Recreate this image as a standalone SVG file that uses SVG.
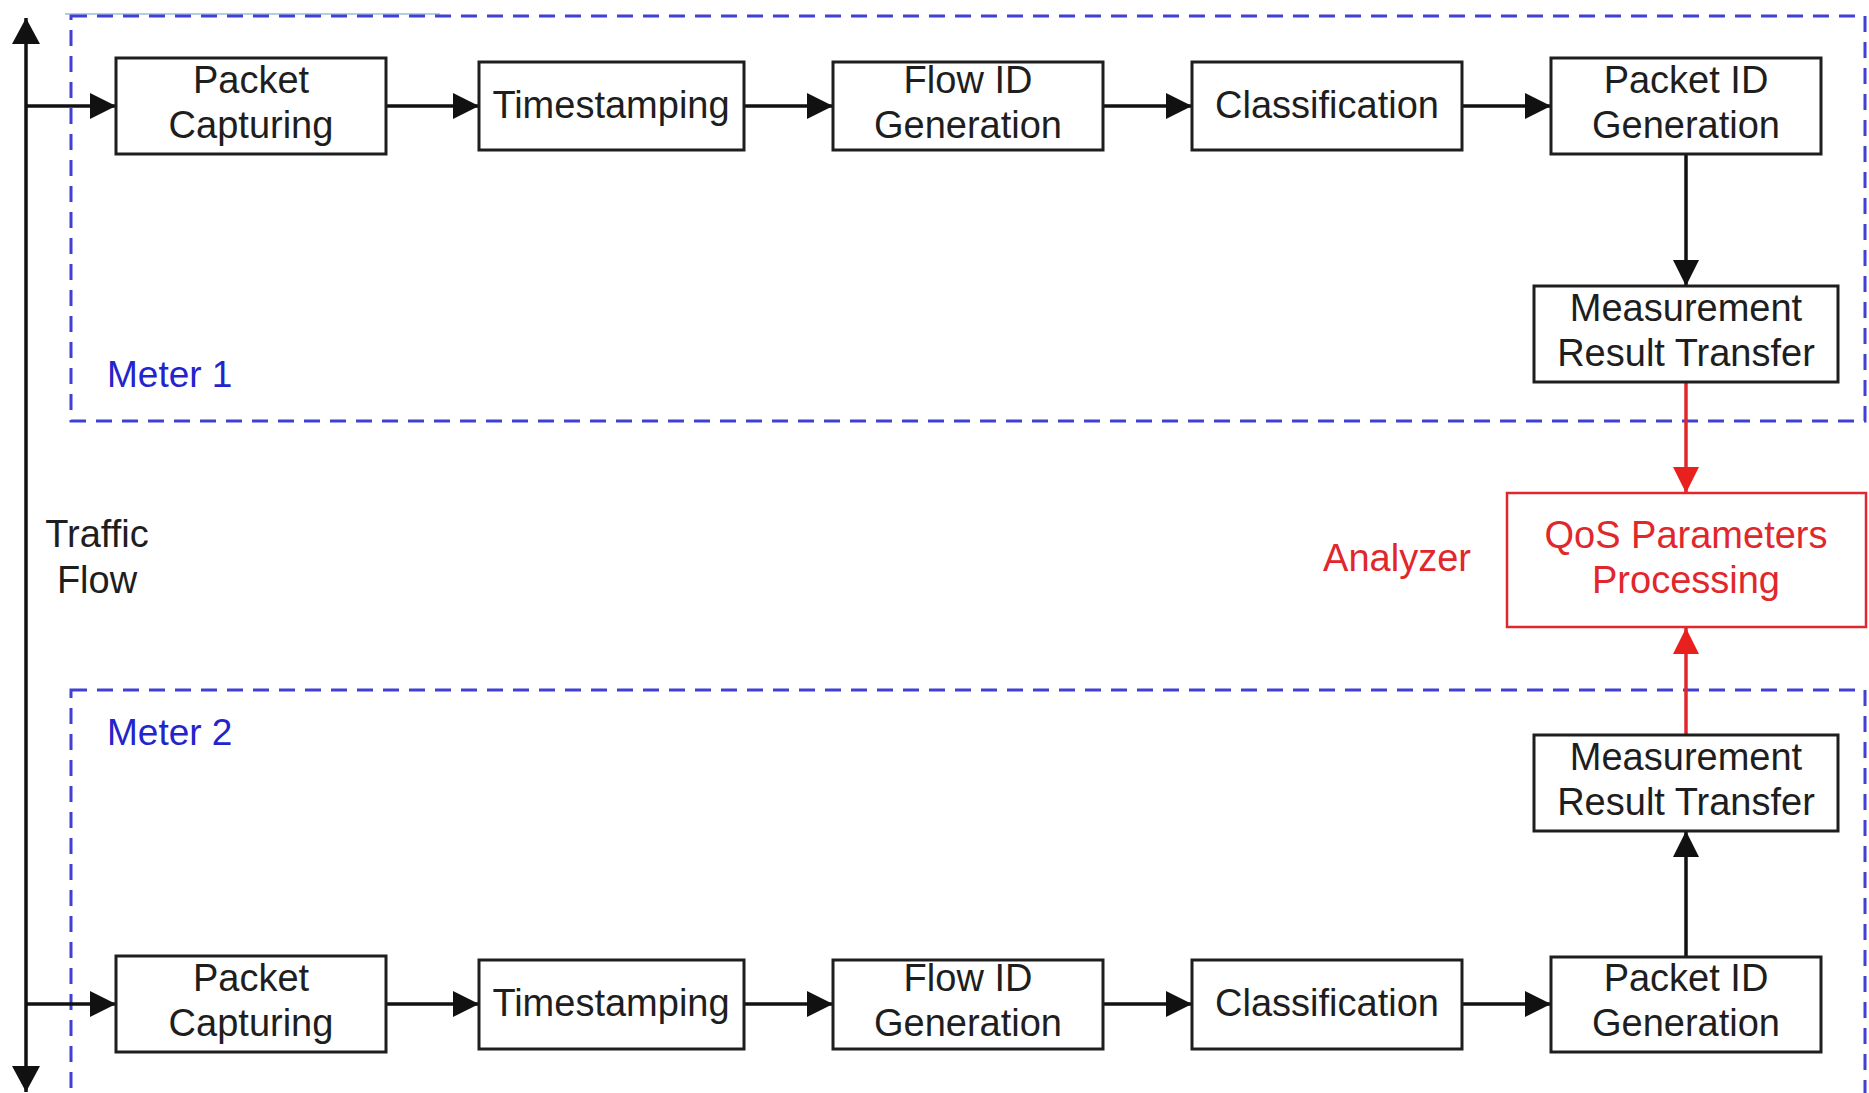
<svg xmlns="http://www.w3.org/2000/svg" width="1869" height="1093" viewBox="0 0 1869 1093">
  <style>
    .box { fill: #ffffff; stroke: #1e1e1e; stroke-width: 3; }
    .rbox { fill: #ffffff; stroke: #e0282c; stroke-width: 2.5; }
    .meter { fill: none; stroke: #4040d4; stroke-width: 3; stroke-dasharray: 16 10; }
    .t { font-family: "Liberation Sans", Arial, sans-serif; font-size: 38px; fill: #1e1e1e; text-anchor: middle; }
    .rt { font-family: "Liberation Sans", Arial, sans-serif; font-size: 38px; fill: #e0282c; text-anchor: middle; }
    .bt { font-family: "Liberation Sans", Arial, sans-serif; font-size: 37px; fill: #2424cc; }
    .ln { fill: none; stroke: #111111; stroke-width: 3.5; }
    .rln { fill: none; stroke: #e0282c; stroke-width: 3.5; }
  </style>
  <defs>
    <marker id="ah" viewBox="0 0 26 26" refX="26" refY="13" markerWidth="26" markerHeight="26" markerUnits="userSpaceOnUse" orient="auto">
      <path d="M0,0 L26,13 L0,26 Z" fill="#111111"/>
    </marker>
    <marker id="ahr" viewBox="0 0 26 26" refX="26" refY="13" markerWidth="26" markerHeight="26" markerUnits="userSpaceOnUse" orient="auto">
      <path d="M0,0 L26,13 L0,26 Z" fill="#e8201e"/>
    </marker>
    <marker id="ahs" viewBox="0 0 26 28" refX="26" refY="14" markerWidth="26" markerHeight="28" markerUnits="userSpaceOnUse" orient="auto-start-reverse">
      <path d="M0,0 L26,14 L0,28 Z" fill="#111111"/>
    </marker>
  </defs>

  <rect width="1869" height="1093" fill="#ffffff"/>

  <!-- faint guide line along the top edge -->
  <line x1="65" y1="14" x2="440" y2="14" stroke="#9cbcd8" stroke-width="1.5"/>

  <!-- meter boundaries -->
  <g id="meter1">
    <rect class="meter" x="71" y="16" width="1794" height="405"/>
    <text class="bt" x="107" y="387">Meter 1</text>
  </g>
  <g id="meter2">
    <rect class="meter" x="71" y="690" width="1794" height="420"/>
    <text class="bt" x="107" y="745">Meter 2</text>
  </g>

  <!-- connectors -->
  <g id="connectors">
    <line class="ln" x1="26" y1="540" x2="26" y2="18" marker-end="url(#ahs)"/>
    <line class="ln" x1="26" y1="540" x2="26" y2="1092" marker-end="url(#ahs)"/>
    <line class="ln" x1="26" y1="106" x2="116" y2="106" marker-end="url(#ah)"/>
    <line class="ln" x1="386" y1="106" x2="479" y2="106" marker-end="url(#ah)"/>
    <line class="ln" x1="744" y1="106" x2="833" y2="106" marker-end="url(#ah)"/>
    <line class="ln" x1="1103" y1="106" x2="1192" y2="106" marker-end="url(#ah)"/>
    <line class="ln" x1="1462" y1="106" x2="1551" y2="106" marker-end="url(#ah)"/>
    <line class="ln" x1="1686" y1="154" x2="1686" y2="286" marker-end="url(#ah)"/>
    <line class="rln" x1="1686" y1="382" x2="1686" y2="493" marker-end="url(#ahr)"/>
    <line class="rln" x1="1686" y1="735" x2="1686" y2="628" marker-end="url(#ahr)"/>
    <line class="ln" x1="1686" y1="957" x2="1686" y2="831" marker-end="url(#ah)"/>
    <line class="ln" x1="26" y1="1004" x2="116" y2="1004" marker-end="url(#ah)"/>
    <line class="ln" x1="386" y1="1004" x2="479" y2="1004" marker-end="url(#ah)"/>
    <line class="ln" x1="744" y1="1004" x2="833" y2="1004" marker-end="url(#ah)"/>
    <line class="ln" x1="1103" y1="1004" x2="1192" y2="1004" marker-end="url(#ah)"/>
    <line class="ln" x1="1462" y1="1004" x2="1551" y2="1004" marker-end="url(#ah)"/>
  </g>

  <g id="traffic-flow">
    <text class="t" x="97" y="547">Traffic</text>
    <text class="t" x="97" y="593">Flow</text>
  </g>

  <!-- meter 1 pipeline -->
  <g id="m1-capture">
    <rect class="box" x="116" y="58" width="270" height="96"/>
    <text class="t" x="251" y="93">Packet</text>
    <text class="t" x="251" y="138">Capturing</text>
  </g>
  <g id="m1-timestamp">
    <rect class="box" x="479" y="62" width="265" height="88"/>
    <text class="t" x="611" y="118">Timestamping</text>
  </g>
  <g id="m1-flowid">
    <rect class="box" x="833" y="62" width="270" height="88"/>
    <text class="t" x="968" y="93">Flow ID</text>
    <text class="t" x="968" y="138">Generation</text>
  </g>
  <g id="m1-classify">
    <rect class="box" x="1192" y="62" width="270" height="88"/>
    <text class="t" x="1327" y="118">Classification</text>
  </g>
  <g id="m1-packetid">
    <rect class="box" x="1551" y="58" width="270" height="96"/>
    <text class="t" x="1686" y="93">Packet ID</text>
    <text class="t" x="1686" y="138">Generation</text>
  </g>
  <g id="m1-transfer">
    <rect class="box" x="1534" y="286" width="304" height="96"/>
    <text class="t" x="1686" y="321">Measurement</text>
    <text class="t" x="1686" y="366">Result Transfer</text>
  </g>

  <!-- analyzer -->
  <g id="analyzer">
    <text class="rt" x="1397" y="571">Analyzer</text>
    <rect class="rbox" x="1507" y="493" width="359" height="134"/>
    <text class="rt" x="1686" y="548">QoS Parameters</text>
    <text class="rt" x="1686" y="593">Processing</text>
  </g>

  <!-- meter 2 pipeline -->
  <g id="m2-transfer">
    <rect class="box" x="1534" y="735" width="304" height="96"/>
    <text class="t" x="1686" y="770">Measurement</text>
    <text class="t" x="1686" y="815">Result Transfer</text>
  </g>
  <g id="m2-capture">
    <rect class="box" x="116" y="956" width="270" height="96"/>
    <text class="t" x="251" y="991">Packet</text>
    <text class="t" x="251" y="1036">Capturing</text>
  </g>
  <g id="m2-timestamp">
    <rect class="box" x="479" y="960" width="265" height="89"/>
    <text class="t" x="611" y="1016">Timestamping</text>
  </g>
  <g id="m2-flowid">
    <rect class="box" x="833" y="960" width="270" height="89"/>
    <text class="t" x="968" y="991">Flow ID</text>
    <text class="t" x="968" y="1036">Generation</text>
  </g>
  <g id="m2-classify">
    <rect class="box" x="1192" y="960" width="270" height="89"/>
    <text class="t" x="1327" y="1016">Classification</text>
  </g>
  <g id="m2-packetid">
    <rect class="box" x="1551" y="957" width="270" height="95"/>
    <text class="t" x="1686" y="991">Packet ID</text>
    <text class="t" x="1686" y="1036">Generation</text>
  </g>
</svg>
